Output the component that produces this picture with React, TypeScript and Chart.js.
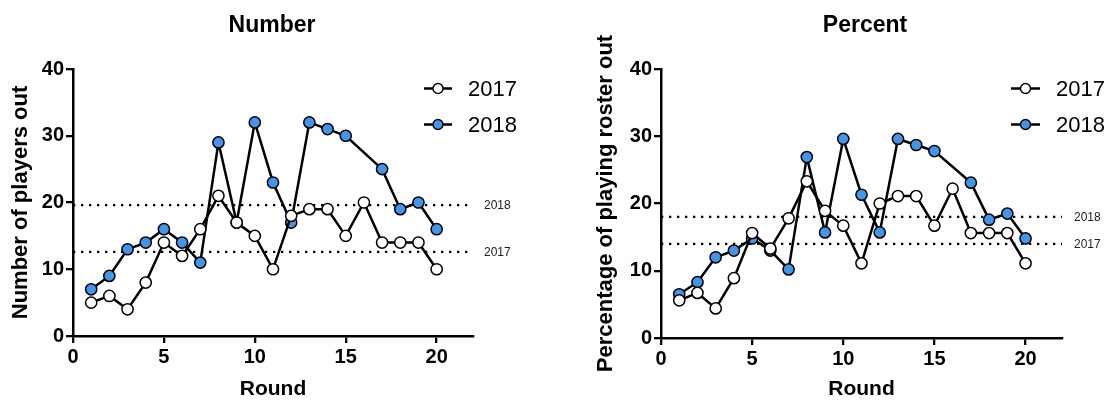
import React, { useEffect, useRef } from "react";
import { Chart, registerables } from "chart.js";

Chart.register(...registerables);

// ---------- data ----------
const rounds = [1, 2, 3, 4, 5, 6, 7, 8, 9, 10, 11, 12, 13, 14, 15, 16, 17, 18, 19, 20];
const seriesNames = ["2017", "2018"];

const number2017 = [5, 6, 4, 8, 14, 12, 16, 21, 17, 15, 10, 18, 19, 19, 15, 20, 14, 14, 14, 10];
const number2018 = [7, 9, 13, 14, 16, 14, 11, 29, 17, 32, 23, 17, 32, 31, 30, null, 25, 19, 20, 16];

const percent2017 = [5.6, 6.7, 4.4, 8.9, 15.6, 13.3, 17.8, 23.3, 18.9, 16.7, 11.1, 20.0, 21.1, 21.1, 16.7, 22.2, 15.6, 15.6, 15.6, 11.1];
const percent2018 = [6.5, 8.3, 12.0, 13.0, 14.8, 13.0, 10.2, 26.9, 15.7, 29.6, 21.3, 15.7, 29.6, 28.7, 27.8, null, 23.1, 17.6, 18.5, 14.8];

const numberMeans = [12.6, 19.6]; // 2017, 2018
const percentMeans = [14.0, 18.0]; // 2017, 2018

const xTicks = [0, 5, 10, 15, 20];
const yTicks = [0, 10, 20, 30, 40];
const xRange = [0, 22];
const yRange = [0, 40];

// ---------- styles ----------
const FONT = "'Liberation Sans', Arial, Helvetica, sans-serif";
const BLUE = "#4195EA";
const fills = ["#ffffff", BLUE];

type PanelCfg = {
  title: string;
  yTitle: string;
  s2017: (number | null)[];
  s2018: (number | null)[];
  means: number[];
  width: number;
  left: number;
  areaLeft: number;
  areaRight: number;
  areaTop: number;
  areaBottom: number;
  titleX: number;
  yTitlePad: number;
  legendX1: number;
  legendX2: number;
  legendTextX: number;
  meanLabelX: number;
};

const H = 403;

function Panel({ cfg }: { cfg: PanelCfg }) {
  const ref = useRef<HTMLCanvasElement | null>(null);
  useEffect(() => {
    if (!ref.current) return;
    const toPts = (arr: (number | null)[]) =>
      rounds.map((r, i) => ({ x: r, y: arr[i] })).filter((p) => p.y !== null);

    const overlay = {
      id: "overlay",
      afterDraw(chart: any) {
        const ctx = chart.ctx;
        const ys = chart.scales.y;
        ctx.save();
        // title
        ctx.fillStyle = "#000";
        ctx.font = `bold 23px ${FONT}`;
        ctx.textAlign = "center";
        ctx.textBaseline = "middle";
        ctx.fillText(cfg.title, cfg.titleX, 26);
        // mean labels
        ctx.font = `12px ${FONT}`;
        ctx.textAlign = "left";
        ctx.fillStyle = "#222";
        cfg.means.forEach((m, i) => {
          ctx.fillText(seriesNames[i], cfg.meanLabelX, ys.getPixelForValue(m) + 1);
        });
        // legend
        const rowsY = [88.5, 124.5];
        seriesNames.forEach((name, i) => {
          const y = rowsY[i];
          ctx.strokeStyle = "#000";
          ctx.lineWidth = 2.5;
          ctx.beginPath();
          ctx.moveTo(cfg.legendX1, y);
          ctx.lineTo(cfg.legendX2, y);
          ctx.stroke();
          ctx.beginPath();
          ctx.arc((cfg.legendX1 + cfg.legendX2) / 2, y, 5, 0, Math.PI * 2);
          ctx.fillStyle = fills[i];
          ctx.fill();
          ctx.lineWidth = 1.4;
          ctx.stroke();
          ctx.fillStyle = "#000";
          ctx.font = `22px ${FONT}`;
          ctx.textAlign = "left";
          ctx.textBaseline = "middle";
          ctx.fillText(name, cfg.legendTextX, y + 1);
        });
        ctx.restore();
      },
    };

    const seriesStyle = (i: number) => ({
      borderColor: "#000",
      borderWidth: 2.5,
      pointRadius: 5.6,
      pointBorderWidth: 1.5,
      pointBackgroundColor: fills[i],
      pointBorderColor: "#000",
      showLine: true,
      spanGaps: true,
      tension: 0,
    });

    const chart = new Chart(ref.current, {
      type: "scatter",
      data: {
        datasets: [
          { label: seriesNames[0], data: toPts(cfg.s2017), order: 0, ...seriesStyle(0) },
          { label: seriesNames[1], data: toPts(cfg.s2018), order: 1, ...seriesStyle(1) },
          ...cfg.means.map((m, i) => ({
            label: "mean " + seriesNames[i],
            data: [
              { x: xRange[0], y: m },
              { x: xRange[1], y: m },
            ],
            order: 2 + i,
            showLine: true,
            borderColor: "#000",
            borderWidth: 2.3,
            borderDash: [2.3, 5.7],
            pointRadius: 0,
          })),
        ],
      } as any,
      options: {
        responsive: false,
        animation: false,
        devicePixelRatio: 1,
        layout: {
          padding: {
            left: 0,
            top: cfg.areaTop,
            right: cfg.width - cfg.areaRight,
            bottom: 0,
          },
        },
        plugins: {
          legend: { display: false },
          title: { display: false },
          tooltip: { enabled: false },
        },
        scales: {
          x: {
            type: "linear",
            min: xRange[0],
            max: xRange[1],
            afterBuildTicks: (s: any) => {
              s.ticks = xTicks.map((v) => ({ value: v }));
            },
            afterFit: (s: any) => {
              s.height = H - cfg.areaBottom;
            },
            grid: {
              display: true,
              drawOnChartArea: false,
              drawTicks: true,
              tickLength: 7,
              color: "#000",
              lineWidth: 2.3,
            },
            border: { display: true, color: "#000", width: 2.5 },
            ticks: {
              color: "#000",
              font: { family: FONT, size: 20, weight: "bold" },
              padding: 2,
              maxRotation: 0,
            },
            title: {
              display: true,
              text: "Round",
              color: "#000",
              font: { family: FONT, size: 21, weight: "bold" },
              padding: { top: 0, bottom: 1 },
            },
          },
          y: {
            type: "linear",
            min: yRange[0],
            max: yRange[1],
            afterBuildTicks: (s: any) => {
              s.ticks = yTicks.map((v) => ({ value: v }));
            },
            afterFit: (s: any) => {
              s.width = cfg.areaLeft;
            },
            grid: {
              display: true,
              drawOnChartArea: false,
              drawTicks: true,
              tickLength: 7,
              color: "#000",
              lineWidth: 2.3,
            },
            border: { display: true, color: "#000", width: 2.5 },
            ticks: {
              color: "#000",
              font: { family: FONT, size: 20, weight: "bold" },
              padding: 2,
            },
            title: {
              display: true,
              text: cfg.yTitle,
              color: "#000",
              font: { family: FONT, size: 22, weight: "bold" },
              padding: { top: cfg.yTitlePad, bottom: 0 },
            },
          },
        },
      } as any,
      plugins: [overlay],
    });
    return () => chart.destroy();
  }, [cfg]);

  return (
    <canvas
      ref={ref}
      width={cfg.width}
      height={H}
      style={{ position: "absolute", left: cfg.left, top: 0, width: cfg.width, height: H }}
    />
  );
}

const leftCfg: PanelCfg = {
  title: "Number",
  yTitle: "Number of players out",
  s2017: number2017,
  s2018: number2018,
  means: numberMeans,
  width: 555,
  left: 0,
  areaLeft: 73,
  areaRight: 473,
  areaTop: 69,
  areaBottom: 336,
  titleX: 272,
  yTitlePad: 8,
  legendX1: 424,
  legendX2: 452,
  legendTextX: 468,
  meanLabelX: 484,
};

const rightCfg: PanelCfg = {
  title: "Percent",
  yTitle: "Percentage of playing roster out",
  s2017: percent2017,
  s2018: percent2018,
  means: percentMeans,
  width: 554,
  left: 555,
  areaLeft: 661 - 555,
  areaRight: 1062 - 555,
  areaTop: 69,
  areaBottom: 338,
  titleX: 865 - 555,
  yTitlePad: 38,
  legendX1: 1011 - 555,
  legendX2: 1040 - 555,
  legendTextX: 1056 - 555,
  meanLabelX: 1074 - 555,
};

export default function App() {
  return (
    <div style={{ position: "fixed", left: 0, top: 0, width: 1109, height: H, background: "#fff" }}>
      <Panel cfg={leftCfg} />
      <Panel cfg={rightCfg} />
    </div>
  );
}
